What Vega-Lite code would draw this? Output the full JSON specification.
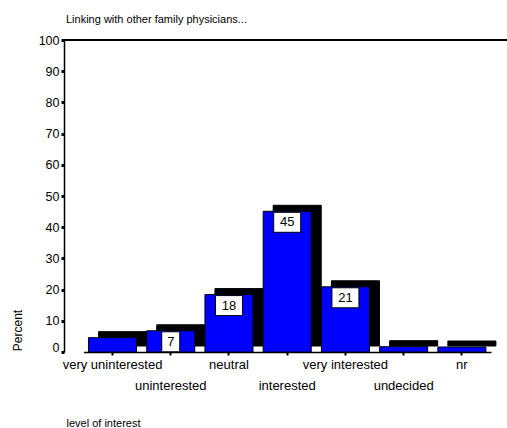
{
  "$schema": "https://vega.github.io/schema/vega-lite/v6.json",
  "autosize": "none",
  "width": 443,
  "height": 312,
  "padding": {"left": 64, "top": 40, "right": 0, "bottom": 76},
  "background": "white",
  "title": {
    "text": "Linking with other family physicians...",
    "anchor": "start",
    "frame": "group",
    "font": "Liberation Sans",
    "fontSize": 11,
    "fontWeight": "normal",
    "color": "#000000",
    "offset": 9,
    "dx": 2
  },
  "config": {
    "view": {"stroke": null},
    "font": "Liberation Sans"
  },
  "data": {
    "values": [
      {"level": "very uninterested", "percent": 4.6, "label": ""},
      {"level": "uninterested", "percent": 6.8, "label": "7"},
      {"level": "neutral", "percent": 18.4, "label": "18"},
      {"level": "interested", "percent": 45.1, "label": "45"},
      {"level": "very interested", "percent": 20.9, "label": "21"},
      {"level": "undecided", "percent": 1.7, "label": ""},
      {"level": "nr", "percent": 1.6, "label": ""}
    ]
  },
  "encoding": {
    "y": {
      "field": "percent",
      "type": "quantitative",
      "scale": {"domain": [0, 100], "nice": false},
      "axis": {
        "title": "Percent",
        "titleFont": "Liberation Sans",
        "titleFontSize": 12,
        "titleFontWeight": "normal",
        "titleColor": "#000000",
        "titleAngle": -90,
        "titleX": -47,
        "titleY": 290,
        "titleAlign": "center",
        "titleBaseline": "middle",
        "tickCount": 11,
        "values": [0, 10, 20, 30, 40, 50, 60, 70, 80, 90, 100],
        "labelFont": "Liberation Sans",
        "labelFontSize": 12.5,
        "labelColor": "#000000",
        "labelPadding": 2,
        "labelOffset": {"condition": {"test": "datum.value == 0", "value": -5}, "value": 0},
        "domainColor": "#000000",
        "domainWidth": 1.5,
        "tickColor": "#000000",
        "tickSize": 3,
        "tickWidth": 3,
        "grid": false
      }
    }
  },
  "layer": [
    {
      "mark": {"type": "rule", "color": "#000000", "strokeWidth": 1.5},
      "encoding": {
        "y": {"datum": 100, "type": "quantitative"}
      }
    },
    {
      "mark": {"type": "bar", "color": "#000000", "stroke": "#000000", "strokeWidth": 1, "xOffset": 10, "x2Offset": 10, "yOffset": -6, "y2Offset": -6},
      "encoding": {
        "x": {
          "field": "level",
          "type": "nominal",
          "sort": null,
          "scale": {"range": [19.4, 427], "paddingInner": 0.175, "paddingOuter": 0.0875},
          "axis": {
            "title": "level of interest",
            "titleFont": "Liberation Sans",
            "titleFontSize": 11,
            "titleFontWeight": "normal",
            "titleColor": "#000000",
            "titleAnchor": "start",
            "titleAlign": "left",
            "titleBaseline": "middle",
            "titleX": 2,
            "titleY": 71,
            "labelAngle": 0,
            "labelFont": "Liberation Sans",
            "labelFontSize": 13,
            "labelColor": "#000000",
            "labelLineHeight": 21,
            "labelBaseline": "top",
            "labelPadding": 3,
            "labelExpr": "indexof(['uninterested','interested','undecided'], datum.value) >= 0 ? ['', datum.label] : datum.label",
            "domainColor": "#000000",
            "domainWidth": 1.5,
            "tickColor": "#000000",
            "tickSize": 3,
            "tickWidth": 2,
            "labelOverlap": false
          }
        },
        "y2": {"datum": 0}
      }
    },
    {
      "mark": {"type": "bar", "color": "#0000ff", "stroke": "#000000", "strokeWidth": 1},
      "encoding": {
        "x": {"field": "level", "type": "nominal", "sort": null}
      }
    },
    {
      "transform": [{"filter": "length(datum.label) == 2"}],
      "mark": {"type": "bar", "width": 27, "fill": "#ffffff", "stroke": "#000000", "strokeWidth": 1, "yOffset": 1, "y2Offset": 21},
      "encoding": {
        "x": {"field": "level", "type": "nominal", "sort": null},
        "y2": {"field": "percent"}
      }
    },
    {
      "transform": [{"filter": "length(datum.label) == 1"}],
      "mark": {"type": "bar", "width": 18, "fill": "#ffffff", "stroke": "#000000", "strokeWidth": 1, "yOffset": 1, "y2Offset": 21},
      "encoding": {
        "x": {"field": "level", "type": "nominal", "sort": null},
        "y2": {"field": "percent"}
      }
    },
    {
      "transform": [{"filter": "length(datum.label) > 0"}],
      "mark": {"type": "text", "font": "Liberation Sans", "fontSize": 13, "color": "#000000", "baseline": "middle", "align": "center", "yOffset": 11},
      "encoding": {
        "x": {"field": "level", "type": "nominal", "sort": null},
        "text": {"field": "label"}
      }
    }
  ]
}
